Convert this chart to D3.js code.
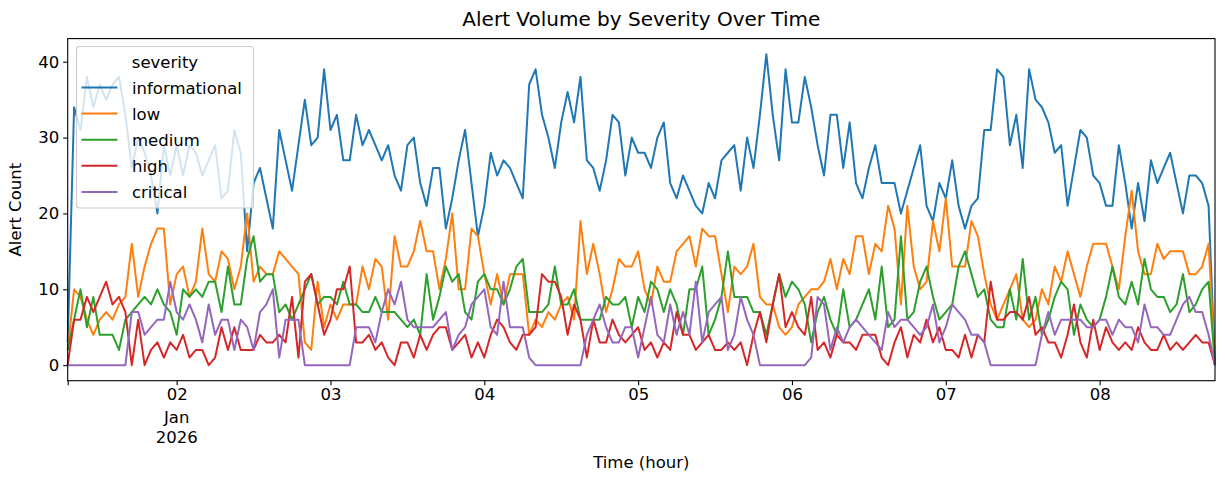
<!DOCTYPE html>
<html>
<head>
<meta charset="utf-8">
<script src="https://cdn.jsdelivr.net/npm/d3@7"></script>
<style>
  body { margin: 0; background: #fff; }
  text { font-family: "DejaVu Sans", sans-serif; }
</style>
</head>
<body>
<div id="chart"></div>
<script>
// hourly counts starting 2026-01-01 07:00
const startHour = Date.UTC(2026, 0, 1, 7)

const severities = ["informational", "low", "medium", "high", "critical"]
const colors = ["#1f77b4", "#ff7f0e", "#2ca02c", "#d62728", "#9467bd"]

const informational = [3,34,31,38,34,37,35,37,38,33,26,30,28,25,20,29,25,29,25,29,28,25,27,29,22,23,31,28,15,24,
  26,22,18,31,27,23,29,35,29,30,39,31,33,27,27,33,29,31,29,27,29,25,23,29,30,24,21,26,26,18,
  22,27,31,24,17,21,28,25,27,26,24,22,37,39,33,30,26,32,36,32,38,27,26,23,27,33,32,25,30,28,
  28,26,30,32,24,22,25,23,21,20,24,22,27,28,29,23,30,26,33,41,33,27,39,32,32,38,34,29,25,33,
  33,26,32,24,22,26,29,24,24,24,20,23,26,29,21,19,24,22,27,21,18,21,22,31,31,39,38,29,33,26,
  39,35,34,32,28,29,21,26,31,30,25,24,21,21,29,24,18,24,19,27,24,26,28,24,20,25,25,24,21,0]
const low = [2,10,9,6,4,6,7,6,8,9,16,9,13,16,18,18,8,12,13,9,11,18,12,11,15,14,10,13,20,11,
  13,12,12,15,14,13,12,3,2,11,5,8,6,8,8,8,13,10,14,13,6,17,13,13,15,19,15,15,10,14,
  20,10,10,18,17,12,8,12,8,12,12,12,4,6,5,7,6,8,9,6,19,12,16,12,7,10,14,13,13,15,
  10,8,13,11,11,15,16,17,13,18,17,17,12,7,13,12,13,16,9,8,8,5,4,5,8,9,10,10,11,14,
  10,14,12,17,17,12,16,15,21,18,8,21,13,10,11,19,15,22,13,13,13,19,17,12,8,6,8,10,12,6,
  5,6,10,8,13,11,15,12,9,13,16,16,16,13,10,17,23,15,12,12,16,14,15,15,15,12,12,13,16,0]
const medium = [2,6,10,5,9,4,4,4,2,6,7,8,9,8,10,8,7,4,10,9,10,9,11,11,7,13,8,8,14,17,
  11,12,12,7,8,6,8,10,12,8,9,9,8,11,8,8,7,7,9,7,7,7,6,5,6,4,12,6,9,13,
  11,12,7,6,11,12,10,10,8,10,13,14,7,7,7,8,13,8,8,10,6,6,6,6,9,8,8,9,5,9,
  7,11,10,7,10,8,4,10,10,13,4,6,9,15,9,9,9,7,7,4,8,12,9,11,10,8,3,7,9,6,
  4,10,5,6,8,10,6,13,5,6,17,6,7,11,13,9,6,7,8,13,15,12,9,10,6,5,5,10,6,14,
  6,9,4,6,9,11,10,4,8,6,5,6,9,13,9,8,11,8,14,10,9,9,7,8,12,7,8,10,11,0]
const high = [0,6,6,9,7,9,11,8,9,7,0,6,0,2,3,1,3,2,4,1,2,2,0,1,5,2,5,2,2,2,
  4,3,3,4,3,9,1,11,12,8,4,6,10,10,13,3,3,4,2,3,1,0,3,3,1,4,2,4,5,5,
  2,3,4,1,3,1,4,6,5,3,2,4,4,5,12,11,11,9,4,8,6,1,6,3,3,6,4,3,4,5,
  2,3,1,3,2,7,4,4,2,3,4,2,2,3,2,3,0,4,7,3,8,12,5,7,5,4,9,2,3,1,
  4,3,3,2,4,4,4,1,0,3,5,1,4,3,6,3,5,2,2,1,4,1,4,3,11,6,6,7,7,6,
  9,4,5,3,3,1,4,8,3,1,6,2,5,3,2,3,2,5,3,2,2,4,2,3,2,3,4,3,3,0]
const critical = [0,0,0,0,0,0,0,0,0,0,7,7,4,5,6,6,11,7,6,8,6,3,8,4,6,6,2,6,5,2,
  7,8,10,1,6,6,6,0,0,0,0,0,0,0,0,5,5,5,3,7,10,8,11,6,5,5,5,5,6,7,
  2,4,5,8,9,10,5,4,11,5,5,5,1,0,0,0,0,0,0,0,0,4,6,8,5,3,3,5,5,1,
  5,9,4,3,8,4,7,4,11,3,7,8,9,2,4,9,6,4,0,0,0,0,0,0,0,0,1,9,8,2,
  5,3,5,6,5,4,3,2,7,5,6,6,5,4,5,8,3,5,8,7,6,4,4,3,0,0,0,0,0,0,
  0,0,4,7,4,6,6,6,6,5,5,6,6,4,6,5,5,3,8,5,5,4,4,6,8,9,7,7,4,0]

const seriesValues = [informational, low, medium, high, critical]
const yTicks = [0, 10, 20, 30, 40]
const dayTicks = [2, 3, 4, 5, 6, 7, 8]

const W = 1225, H = 483
const margin = { top: 38.6, right: 10, bottom: 102.3, left: 67.7 }
const fs = 16.5

const svg = d3.select("#chart")
  .append("svg")
  .attr("width", W)
  .attr("height", H)

const times = informational.map((d, i) => new Date(startHour + i * 3600000))

const x = d3.scaleUtc()
  .domain([times[0], times[times.length - 1]])
  .range([margin.left, W - margin.right])

const y = d3.scaleLinear()
  .domain([-2.05, 43.05])
  .range([H - margin.bottom, margin.top])

// lines
const line = d3.line()
  .x((d, i) => x(times[i]))
  .y(d => y(d))

const plot = svg.append("g")
seriesValues.forEach((vals, k) => {
  plot.append("path")
    .datum(vals)
    .attr("fill", "none")
    .attr("stroke", colors[k])
    .attr("stroke-width", 2)
    .attr("stroke-linejoin", "round")
    .attr("d", line)
})

// frame
svg.append("rect")
  .attr("x", margin.left)
  .attr("y", margin.top)
  .attr("width", W - margin.right - margin.left)
  .attr("height", H - margin.bottom - margin.top)
  .attr("fill", "none")
  .attr("stroke", "#000")
  .attr("stroke-width", 1.1)

// y axis
const yAxis = svg.append("g")
  .attr("transform", `translate(${margin.left},0)`)
  .call(d3.axisLeft(y).tickValues(yTicks).tickSize(4.5).tickPadding(4))
yAxis.select(".domain").remove()
yAxis.selectAll("text").attr("font-size", fs).attr("fill", "#000").attr("font-family", "DejaVu Sans")
yAxis.selectAll("line").attr("stroke-width", 1.1)

// x axis
const xTickDates = dayTicks.map(d => new Date(Date.UTC(2026, 0, d)))
const xAxis = svg.append("g")
  .attr("transform", `translate(0,${H - margin.bottom})`)
  .call(d3.axisBottom(x).tickValues([times[0]].concat(xTickDates)).tickSize(4.5).tickPadding(3)
    .tickFormat(d => d.getTime() === times[0].getTime() ? "" : d3.utcFormat("%d")(d)))
xAxis.select(".domain").remove()
xAxis.selectAll("text").attr("font-size", fs).attr("fill", "#000").attr("font-family", "DejaVu Sans")
xAxis.selectAll("line").attr("stroke-width", 1.1)

// month / year under the first day label
const first = x(xTickDates[0])
svg.append("text").attr("x", first).attr("y", 423)
  .attr("text-anchor", "middle").attr("font-size", fs).text("Jan")
svg.append("text").attr("x", first).attr("y", 443)
  .attr("text-anchor", "middle").attr("font-size", fs).text("2026")

// titles
const cx = (margin.left + W - margin.right) / 2
svg.append("text").attr("x", cx).attr("y", 26)
  .attr("text-anchor", "middle").attr("font-size", 20).text("Alert Volume by Severity Over Time")
svg.append("text").attr("x", cx).attr("y", 468)
  .attr("text-anchor", "middle").attr("font-size", fs).text("Time (hour)")
svg.append("text")
  .attr("transform", `translate(21,${(margin.top + H - margin.bottom) / 2}) rotate(-90)`)
  .attr("text-anchor", "middle").attr("font-size", fs).text("Alert Count")

// legend
const lg = svg.append("g").attr("transform", "translate(76.5,46.5)")
lg.append("rect")
  .attr("width", 177).attr("height", 161.5)
  .attr("rx", 3)
  .attr("fill", "#fff").attr("fill-opacity", 0.8)
  .attr("stroke", "#ccc").attr("stroke-width", 1.1)
lg.append("text").attr("x", 88.5).attr("y", 21)
  .attr("text-anchor", "middle").attr("font-size", fs).text("severity")
severities.forEach((s, k) => {
  const yy = 41 + k * 26.1
  lg.append("line").attr("x1", 5).attr("x2", 41).attr("y1", yy).attr("y2", yy)
    .attr("stroke", colors[k]).attr("stroke-width", 2)
  lg.append("text").attr("x", 55.5).attr("y", yy + 6)
    .attr("font-size", fs).text(s)
})
</script>
</body>
</html>
